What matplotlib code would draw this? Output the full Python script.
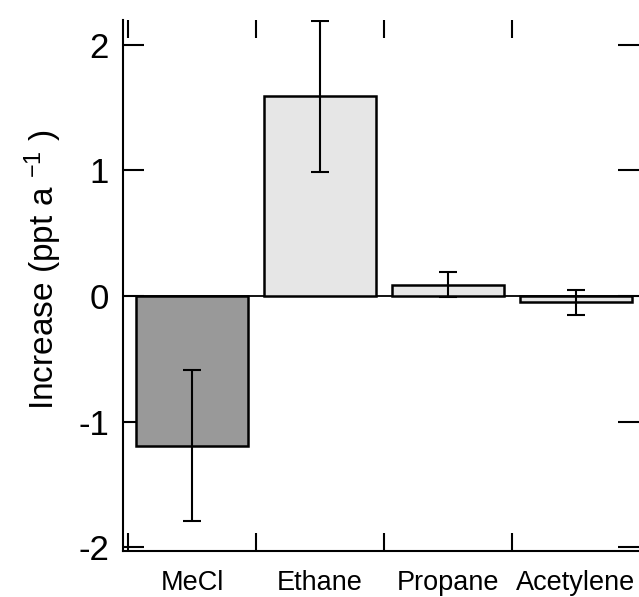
import matplotlib.pyplot as plt
import numpy as np

plt.rcParams['font.family'] = ['Liberation Sans', 'DejaVu Sans']
plt.rcParams['mathtext.fontset'] = 'custom'
plt.rcParams['mathtext.rm'] = 'Liberation Sans'
plt.rcParams['mathtext.default'] = 'regular'

categories = ['MeCl', 'Ethane', 'Propane', 'Acetylene']
increase = [-1.19, 1.59, 0.09, -0.05]
errors = [0.60, 0.60, 0.10, 0.10]
colors = ['#999999', '#e6e6e6', '#e6e6e6', '#e6e6e6']
yticks = [-2, -1, 0, 1, 2]

fig = plt.figure(figsize=(6.39, 5.97), dpi=100)
ax = fig.add_axes([123 / 639, 46 / 597, 516 / 639, 531 / 597])

x = np.arange(len(categories))
ax.bar(x, increase, width=0.88, color=colors, edgecolor='black', linewidth=1.8, zorder=2)
ax.errorbar(x, increase, yerr=errors, fmt='none', ecolor='black',
            elinewidth=1.5, capsize=6.5, capthick=1.5, zorder=3)
ax.axhline(0, color='black', linewidth=1.3, zorder=1)

ax.set_xlim(-0.539, 3.492)
ax.set_ylim(-2.028, 2.195)

ax.spines['top'].set_visible(False)
ax.spines['right'].set_visible(False)
ax.spines['left'].set_linewidth(1.5)
ax.spines['bottom'].set_linewidth(1.5)

ax.set_xticks(x)
ax.set_xticklabels(categories, fontsize=19.5)
ax.set_xticks(np.arange(-0.5, 3.5, 1.0), minor=True)
ax.tick_params(axis='x', which='major', length=0, pad=14)
ax.tick_params(axis='x', which='minor', direction='in', length=13, width=1.5,
               top=True, bottom=True)

ax.set_yticks(yticks)
ax.set_yticklabels([str(v) for v in yticks], fontsize=25)
ax.tick_params(axis='y', which='major', direction='in', length=15, width=1.5,
               left=True, right=True, pad=10)

ax.set_ylabel('Increase (ppt a $^{-1}$ )', fontsize=24, labelpad=10)
ax.yaxis.label.set_y(0.53)

plt.savefig('out.png', dpi=100)
